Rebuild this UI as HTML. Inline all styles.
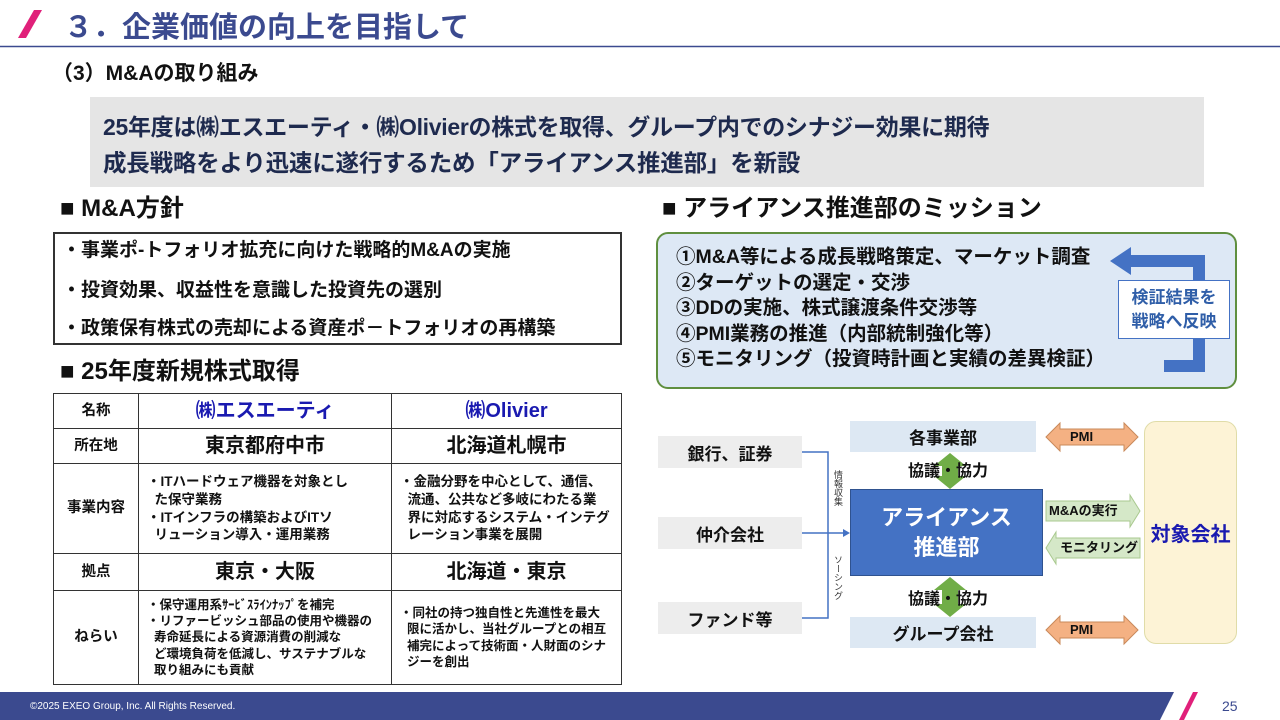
<!DOCTYPE html>
<html><head><meta charset="utf-8"><style>
*{margin:0;padding:0;box-sizing:border-box}
body{width:1280px;height:720px;position:relative;background:#fff;overflow:hidden;font-family:"Liberation Sans","Noto Sans CJK JP",sans-serif;font-weight:bold;color:#111}
.a{position:absolute;white-space:nowrap}
table{position:absolute;left:53px;top:393px;border-collapse:collapse;width:569px}
td{border:1.5px solid #333;text-align:center;vertical-align:middle;line-height:1.25}
td.s{text-align:left;font-size:13.5px;padding-left:8px;line-height:1.3}
.c{font-size:14.5px}
.big{font-size:20px}
.box{position:absolute;display:flex;align-items:center;justify-content:center}
</style></head><body>
<!-- header -->
<svg class="a" style="left:0;top:0" width="1280" height="60"><polygon points="34,10 42,10 26,38 18,38" fill="#e0207a"/><line x1="0" y1="46.5" x2="1280" y2="46.5" stroke="#3b4a8f" stroke-width="1.5"/></svg>
<div class="a" style="left:64px;top:9px;font-size:29px;color:#3b4a8f;line-height:38px">３．企業価値の向上を目指して</div>
<div class="a" style="left:52px;top:59px;font-size:21px;line-height:30px">（3）M&amp;Aの取り組み</div>
<div class="a" style="left:90px;top:97px;width:1114px;height:90px;background:#e5e5e5"></div>
<div class="a" style="left:103px;top:110px;font-size:23px;line-height:34px;color:#1e2a4e;letter-spacing:-0.3px">25年度は㈱エスエーティ・㈱Olivierの株式を取得、グループ内でのシナジー効果に期待</div>
<div class="a" style="left:103px;top:146px;font-size:23.5px;line-height:34px;color:#1e2a4e;letter-spacing:-0.2px">成長戦略をより迅速に遂行するため「アライアンス推進部」を新設</div>
<!-- left -->
<div class="a" style="left:60px;top:193px;font-size:24px;line-height:32px">■ M&amp;A方針</div>
<div class="a" style="left:53px;top:232px;width:569px;height:113px;border:2px solid #333"></div>
<div class="a" style="left:62px;top:237px;font-size:19px;line-height:27px">・事業ポ-トフォリオ拡充に向けた戦略的M&amp;Aの実施</div>
<div class="a" style="left:62px;top:277px;font-size:19px;line-height:27px">・投資効果、収益性を意識した投資先の選別</div>
<div class="a" style="left:62px;top:315px;font-size:19px;line-height:27px">・政策保有株式の売却による資産ポ－トフォリオの再構築</div>
<div class="a" style="left:60px;top:356px;font-size:24px;line-height:32px">■ 25年度新規株式取得</div>
<table>
<tr style="height:35px"><td class="c" style="width:85px">名称</td><td class="big" style="width:253px;color:#1a1ab0">㈱エスエーティ</td><td class="big" style="color:#1a1ab0">㈱Olivier</td></tr>
<tr style="height:35px"><td class="c">所在地</td><td class="big">東京都府中市</td><td class="big">北海道札幌市</td></tr>
<tr style="height:90px"><td class="c">事業内容</td><td class="s">・ITハードウェア機器を対象とし<br>&nbsp;&nbsp;た保守業務<br>・ITインフラの構築およびITソ<br>&nbsp;&nbsp;リューション導入・運用業務</td><td class="s">・金融分野を中心として、通信、<br>&nbsp;&nbsp;流通、公共など多岐にわたる業<br>&nbsp;&nbsp;界に対応するシステム・インテグ<br>&nbsp;&nbsp;レーション事業を展開</td></tr>
<tr style="height:37px"><td class="c">拠点</td><td class="big">東京・大阪</td><td class="big">北海道・東京</td></tr>
<tr style="height:94px"><td class="c">ねらい</td><td class="s" style="font-size:12.5px">・保守運用系ｻｰﾋﾞｽﾗｲﾝﾅｯﾌﾟを補完<br>・リファービッシュ部品の使用や機器の<br>&nbsp;&nbsp;寿命延長による資源消費の削減な<br>&nbsp;&nbsp;ど環境負荷を低減し、サステナブルな<br>&nbsp;&nbsp;取り組みにも貢献</td><td class="s" style="font-size:12.5px">・同社の持つ独自性と先進性を最大<br>&nbsp;&nbsp;限に活かし、当社グループとの相互<br>&nbsp;&nbsp;補完によって技術面・人財面のシナ<br>&nbsp;&nbsp;ジーを創出</td></tr>
</table>
<!-- right -->
<div class="a" style="left:662px;top:193px;font-size:24px;line-height:32px">■ アライアンス推進部のミッション</div>
<div class="a" style="left:656px;top:232px;width:581px;height:157px;background:#dde8f5;border:2px solid #5f8f3f;border-radius:12px"></div>
<div class="a" style="left:676px;top:245px;font-size:19.5px;line-height:25.6px">①M&amp;A等による成長戦略策定、マーケット調査<br>②ターゲットの選定・交渉<br>③DDの実施、株式譲渡条件交渉等<br>④PMI業務の推進（内部統制強化等）<br>⑤モニタリング（投資時計画と実績の差異検証）</div>
<svg class="a" style="left:0;top:0" width="1280" height="720">
<polygon points="1110,261 1131,247 1131,255 1205,255 1205,372 1164,372 1164,360 1193,360 1193,267 1131,267 1131,275" fill="#4472c4"/>
<polyline points="802,452 828,452 828,618 802,618" fill="none" stroke="#4472c4" stroke-width="1.5"/>
<line x1="802" y1="533" x2="845" y2="533" stroke="#4472c4" stroke-width="1.5"/>
<polygon points="850,533 843,529 843,537" fill="#4472c4"/>
<polygon points="950,453 966,466 958,466 958,476 966,476 950,489 934,476 942,476 942,466 934,466" fill="#70ad47"/>
<polygon points="950,577 966,590 958,590 958,604 966,604 950,617 934,604 942,604 942,590 934,590" fill="#70ad47"/>
<polygon points="1046,437 1060,423 1060,429 1124,429 1124,423 1138,437 1124,451 1124,445 1060,445 1060,451" fill="#f4b183" stroke="#c9895a" stroke-width="1"/>
<polygon points="1046,630 1060,616 1060,622 1124,622 1124,616 1138,630 1124,644 1124,638 1060,638 1060,644" fill="#f4b183" stroke="#c9895a" stroke-width="1"/>
<polygon points="1046,501 1130,501 1130,495 1140,511 1130,527 1130,521 1046,521" fill="#d5e8c8" stroke="#a9c98f" stroke-width="1"/>
<polygon points="1056,538 1056,532 1046,548 1056,564 1056,558 1140,558 1140,538" fill="#d5e8c8" stroke="#a9c98f" stroke-width="1"/>
</svg>
<div class="box" style="left:1118px;top:280px;width:112px;height:59px;background:#fff;border:1.5px solid #4472c4;color:#2f5ea8;font-size:17px;line-height:24px;text-align:center">検証結果を<br>戦略へ反映</div>
<div class="a" style="left:1070px;top:428px;font-size:13px;line-height:18px">PMI</div>
<div class="a" style="left:1070px;top:621px;font-size:13px;line-height:18px">PMI</div>
<div class="a" style="left:1049px;top:502px;font-size:13px;line-height:18px">M&amp;Aの実行</div>
<div class="a" style="left:1060px;top:539px;font-size:13px;line-height:18px">モニタリング</div>
<div class="box" style="left:658px;top:436px;width:144px;height:32px;background:#ededed;font-size:17px">銀行、証券</div>
<div class="box" style="left:658px;top:517px;width:144px;height:32px;background:#ededed;font-size:17px">仲介会社</div>
<div class="box" style="left:658px;top:602px;width:144px;height:32px;background:#ededed;font-size:17px">ファンド等</div>
<div class="a" style="left:832px;top:470px;font-size:9px;writing-mode:vertical-rl;color:#333;font-weight:normal">情報収集</div>
<div class="a" style="left:832px;top:555px;font-size:9px;writing-mode:vertical-rl;color:#333;font-weight:normal">ソーシング</div>
<div class="box" style="left:850px;top:421px;width:186px;height:31px;background:#dde8f3;font-size:17px">各事業部</div>
<div class="box" style="left:850px;top:617px;width:186px;height:31px;background:#dde8f3;font-size:17px">グループ会社</div>
<div class="a" style="left:908px;top:461px;font-size:16px;line-height:22px">協議・協力</div>
<div class="a" style="left:908px;top:589px;font-size:16px;line-height:22px">協議・協力</div>
<div class="box" style="left:850px;top:489px;width:193px;height:87px;background:#4472c4;border:1.5px solid #2f528f;color:#fff;font-size:22px;line-height:30px;text-align:center">アライアンス<br>推進部</div>
<div class="box" style="left:1144px;top:421px;width:93px;height:223px;background:#fdf3d6;border:1px solid #e0dca8;border-radius:12px;color:#1a1ab0;font-size:20px">対象会社</div>
<svg class="a" style="left:0;top:0" width="1280" height="720">
<polygon points="0,692 1174,692 1160,720 0,720" fill="#3b4a8f"/>
<polygon points="1193,692 1198,692 1184,720 1179,720" fill="#e0207a"/>
</svg>
<div class="a" style="left:30px;top:700px;font-size:10px;color:#fff;font-weight:normal;line-height:14px">©2025 EXEO Group, Inc. All Rights Reserved.</div>
<div class="a" style="left:1222px;top:697px;font-size:14px;color:#3b4a8f;font-weight:normal;line-height:18px">25</div>
</body></html>
